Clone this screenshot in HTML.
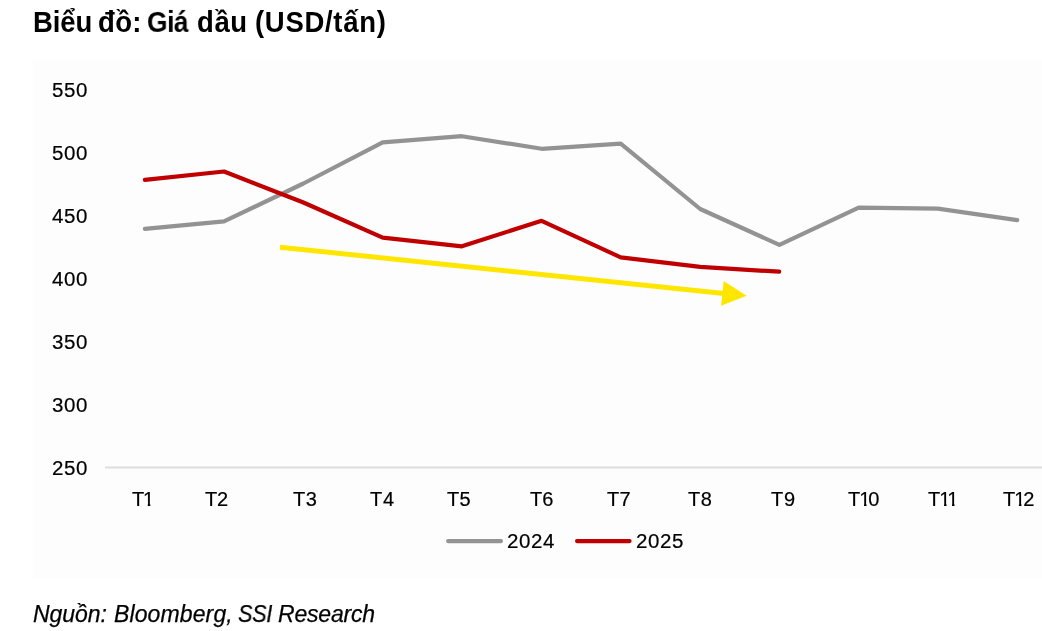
<!DOCTYPE html>
<html lang="vi">
<head>
<meta charset="utf-8">
<title>Biểu đồ: Giá dầu (USD/tấn)</title>
<style>
  html, body { margin: 0; padding: 0; background: #ffffff; }
  body { width: 1042px; height: 631px; position: relative; overflow: hidden;
         font-family: "Liberation Sans", sans-serif; color: #000; }
  .t { position: absolute; white-space: nowrap; line-height: 1; will-change: transform; }
  .tw { top: 7.7px; font-size: 27.5px; font-weight: bold; color: #000; transform-origin: 0 0; transform: scaleY(1.0526); }
  #panel { position: absolute; left: 33px; top: 60px; width: 1009px; height: 518px; background: #fdfdfd; }
  .yl { -webkit-text-stroke: 0.2px #000; font-size: 20.5px; color: #000; left: 51.7px; letter-spacing: 0.6px; }
  .xl { -webkit-text-stroke: 0.2px #000; font-size: 20px; color: #000; top: 489px; }
  .lg { -webkit-text-stroke: 0.2px #000; font-size: 20.5px; color: #000; top: 531px; letter-spacing: 0.56px; }
  .sw { top: 602.5px; font-size: 23px; font-style: italic; color: #000; transform-origin: 0 50%; -webkit-text-stroke: 0.25px #000; }
  .one { display: inline-block; clip-path: polygon(0 0, 7.25px 0, 7.25px 100%, 4.75px 100%, 4.75px 12px, 0 12px); }
  svg { position: absolute; left: 0; top: 0; }
</style>
</head>
<body>
<div id="panel"></div>
<div class="t tw" style="left:32.65px;letter-spacing:-0.1px">Biểu</div>
<div class="t tw" style="left:97.85px;letter-spacing:0.35px">đồ:</div>
<div class="t tw" style="left:147.4px;letter-spacing:-0.5px;transform:scale(0.958,1.0526)">Giá</div>
<div class="t tw" style="left:197.45px;letter-spacing:0.62px">dầu</div>
<div class="t tw" style="left:254.5px;letter-spacing:0.7px">(USD/tấn)</div>

<div class="t yl" style="top:80px">550</div>
<div class="t yl" style="top:143px">500</div>
<div class="t yl" style="top:206px">450</div>
<div class="t yl" style="top:269px">400</div>
<div class="t yl" style="top:332px">350</div>
<div class="t yl" style="top:395px">300</div>
<div class="t yl" style="top:458px">250</div>

<svg width="1042" height="631" viewBox="0 0 1042 631">
  <line x1="105" y1="467.5" x2="1042" y2="467.5" stroke="#dedede" stroke-width="2"/>
  <polyline fill="none" stroke="#939393" stroke-width="4.2" stroke-linecap="round" stroke-linejoin="round"
    points="144.9,228.8 224,221.4 303.4,183.5 382.7,142.4 461.9,136.2 541.6,148.8 620.7,143.6 700.2,209 779.4,244.8 858.7,207.7 937.8,208.6 1017.2,220.2"/>
  <polyline fill="none" stroke="#c00000" stroke-width="4.2" stroke-linecap="round" stroke-linejoin="round"
    points="144.9,179.9 224,171.5 303.4,202.5 382.7,237.7 461.9,246.3 541.6,220.8 620.7,257.3 700.2,266.9 779.2,271.7"/>
  <line x1="280" y1="247.2" x2="724" y2="293.5" stroke="#ffe600" stroke-width="5"/>
  <polygon points="723.7,281.1 746.6,295.7 721.1,305.8" fill="#ffe600"/>
  <line x1="448.1" y1="541.1" x2="501" y2="541.1" stroke="#939393" stroke-width="4.1" stroke-linecap="round"/>
  <line x1="577" y1="541.1" x2="629.6" y2="541.1" stroke="#c00000" stroke-width="4.1" stroke-linecap="round"/>
</svg>

<div class="t xl" style="left:131.5px">T<span class="one" style="margin-left:-1.2px">1</span></div>
<div class="t xl" style="left:205.0px;letter-spacing:-0.15px">T2</div>
<div class="t xl" style="left:292.7px;letter-spacing:0.6px">T3</div>
<div class="t xl" style="left:370.0px;letter-spacing:0.85px">T4</div>
<div class="t xl" style="left:447.2px;letter-spacing:0.4px">T5</div>
<div class="t xl" style="left:529.7px;letter-spacing:0.1px">T6</div>
<div class="t xl" style="left:606.5px;letter-spacing:0.25px">T7</div>
<div class="t xl" style="left:687.9px;letter-spacing:0.6px">T8</div>
<div class="t xl" style="left:770.6px;letter-spacing:0.75px">T9</div>
<div class="t xl" style="left:847.7px">T<span class="one" style="margin-left:-0.97px;margin-right:-2.2px">1</span>0</div>
<div class="t xl" style="left:927.7px">T<span class="one" style="margin-left:-0.95px;margin-right:-3.2px">1</span><span class="one">1</span></div>
<div class="t xl" style="left:1002.9px">T<span class="one" style="margin-left:-1.05px;margin-right:-2px">1</span>2</div>

<div class="t lg" style="left:506.7px">2024</div>
<div class="t lg" style="left:635.5px">2025</div>

<div class="t sw" style="left:33.25px;letter-spacing:-0.04px">Nguồn:</div>
<div class="t sw" style="left:113.85px;letter-spacing:0.12px">Bloomberg,</div>
<div class="t sw" style="left:237.9px;letter-spacing:-0.3px;transform:scaleX(0.944)">SSI</div>
<div class="t sw" style="left:278.05px;letter-spacing:-0.2px">Research</div>
</body>
</html>
